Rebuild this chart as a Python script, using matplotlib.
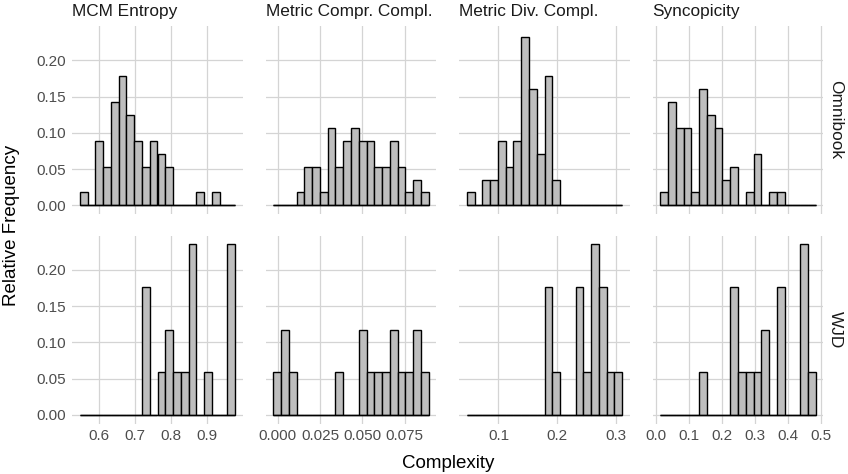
import numpy as np
import matplotlib.pyplot as plt

plt.rcParams['font.family'] = ['Liberation Sans', 'DejaVu Sans']

#-- facets --
measures = ['MCM Entropy', 'Metric Compr. Compl.', 'Metric Div. Compl.', 'Syncopicity']
corpora = ['Omnibook', 'WJD']
n_tunes = {'Omnibook': 56, 'WJD': 17}

#-- bin ranges (20 bins per column) --
bin_lo = [0.5481, -0.00274, 0.0462, 0.0121]
bin_hi = [0.9787, 0.08929, 0.3102, 0.4838]
nbins = 20

#-- counts per bin --
counts_omni = [
    [1, 0, 5, 3, 8, 10, 7, 5, 3, 5, 4, 3, 0, 0, 0, 1, 0, 1, 0, 0],
    [0, 0, 0, 1, 3, 3, 1, 6, 3, 5, 6, 5, 5, 3, 3, 5, 3, 1, 2, 1],
    [1, 0, 2, 2, 5, 3, 5, 13, 9, 4, 10, 2, 0, 0, 0, 0, 0, 0, 0, 0],
    [1, 8, 6, 6, 1, 9, 7, 6, 2, 3, 0, 1, 4, 0, 1, 1, 0, 0, 0, 0],
]
counts_wjd = [
    [0, 0, 0, 0, 0, 0, 0, 0, 3, 0, 1, 2, 1, 1, 4, 0, 1, 0, 0, 4],
    [1, 2, 1, 0, 0, 0, 0, 0, 1, 0, 0, 2, 1, 1, 1, 2, 1, 1, 2, 1],
    [0, 0, 0, 0, 0, 0, 0, 0, 0, 0, 3, 1, 0, 0, 3, 1, 4, 3, 1, 1],
    [0, 0, 0, 0, 0, 1, 0, 0, 0, 3, 1, 1, 1, 2, 0, 3, 0, 0, 4, 1],
]

#-- tick labels --
xticks = [[0.6, 0.7, 0.8, 0.9],
          [0.0, 0.025, 0.05, 0.075],
          [0.1, 0.2, 0.3],
          [0.0, 0.1, 0.2, 0.3, 0.4, 0.5]]
xticklabels = [['0.6', '0.7', '0.8', '0.9'],
               ['0.000', '0.025', '0.050', '0.075'],
               ['0.1', '0.2', '0.3'],
               ['0.0', '0.1', '0.2', '0.3', '0.4', '0.5']]
yticks = [0.0, 0.05, 0.10, 0.15, 0.20]

#-- layout (pixels) --
W, H = 848, 474
lefts = [72, 265.5, 459, 652.5]
pw, ph = 171, 188
tops = [26, 235.5]
grid_c = '#D4D4D4'
tick_c = '#4D4D4D'

fig = plt.figure(figsize=(W/100, H/100), dpi=100)

ymax = max(max(np.array(c)/n_tunes['Omnibook']) for c in counts_omni)
ymax = max(ymax, max(max(np.array(c)/n_tunes['WJD']) for c in counts_wjd))
ylim = (-0.05*ymax, 1.05*ymax)

for r, corp in enumerate(corpora):
    allc = counts_omni if corp == 'Omnibook' else counts_wjd
    for c in range(4):
        ax = fig.add_axes([lefts[c]/W, (H - tops[r] - ph)/H, pw/W, ph/H])
        edges = np.linspace(bin_lo[c], bin_hi[c], nbins + 1)
        bw = edges[1] - edges[0]
        relf = np.array(allc[c]) / n_tunes[corp]
        ax.set_axisbelow(True)
        ax.bar(edges[:-1], relf, width=bw, align='edge', color='#BEBEBE',
               edgecolor='black', linewidth=1.0, zorder=2)
        ax.hlines(0, edges[0], edges[-1], color='black', lw=1.0, zorder=3)
        span = bin_hi[c] - bin_lo[c]
        ax.set_xlim(bin_lo[c] - 0.05*span, bin_hi[c] + 0.05*span)
        ax.set_ylim(*ylim)
        ax.set_xticks(xticks[c])
        ax.set_yticks(yticks)
        ax.grid(True, color=grid_c, lw=0.9)
        for s in ax.spines.values():
            s.set_visible(False)
        ax.tick_params(length=0, labelsize=11, colors=tick_c, pad=4)
        if r == 1:
            ax.set_xticklabels(xticklabels[c])
        else:
            ax.set_xticklabels([])
        if c == 0:
            ax.set_yticklabels(['%.2f' % v for v in yticks])
        else:
            ax.set_yticklabels([])
        if r == 0:
            ax.text(0.0, 1.035, measures[c], transform=ax.transAxes, ha='left',
                    va='bottom', fontsize=12.4, color='#1A1A1A')
        if c == 3:
            ax.text(1.07, 0.5, corp, transform=ax.transAxes, ha='center',
                    va='center', rotation=-90, fontsize=12.4, color='#1A1A1A')

fig.text(12/W, 1 - 225/H, 'Relative Frequency', rotation=90, ha='center',
         va='center', fontsize=13.5)
fig.text(448/W, 1 - 463/H, 'Complexity', ha='center', va='center', fontsize=13.5)

fig.savefig('out.png', dpi=100)
